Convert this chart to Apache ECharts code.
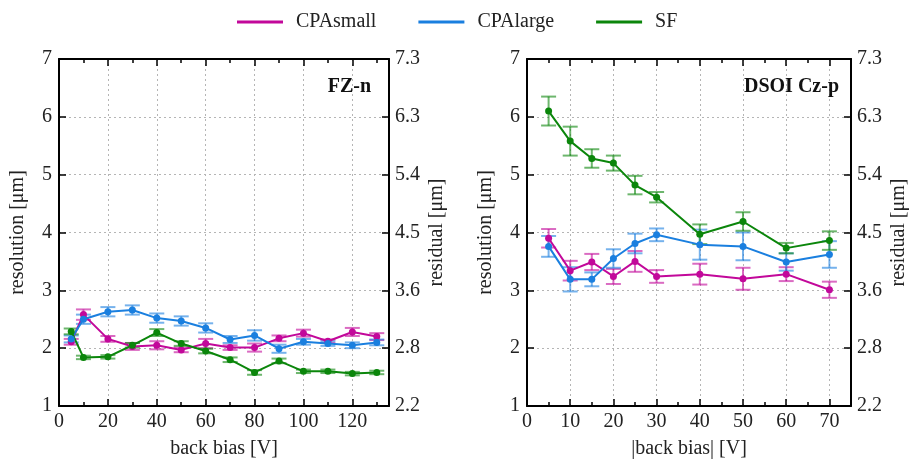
<!DOCTYPE html>
<html>
<head>
<meta charset="utf-8">
<script src="https://cdn.jsdelivr.net/npm/echarts@6/dist/echarts.min.js"></script>
<style>html,body{margin:0;padding:0;background:#fff;}#c{width:910px;height:464px;}</style>
</head>
<body>
<div id="c"></div>
<script>
// ---- data ----
const seriesNames = ['CPAsmall', 'CPAlarge', 'SF'];
const residualTicks = ['2.2', '2.8', '3.6', '4.5', '5.4', '6.3', '7.3']; // at resolution 1..7

// FZ-n panel
const fzX = [5, 10, 20, 30, 40, 50, 60, 70, 80, 90, 100, 110, 120, 130];
const fzSmall = [2.11, 2.58, 2.16, 2.03, 2.05, 1.97, 2.08, 2.01, 2.01, 2.17, 2.26, 2.12, 2.28, 2.20];
const fzSmallErr = [0.05, 0.09, 0.05, 0.06, 0.07, 0.04, 0.08, 0.04, 0.07, 0.05, 0.06, 0.03, 0.07, 0.06];
const fzLarge = [2.16, 2.50, 2.63, 2.66, 2.52, 2.47, 2.35, 2.15, 2.22, 1.99, 2.11, 2.08, 2.05, 2.10];
const fzLargeErr = [0.06, 0.08, 0.08, 0.08, 0.08, 0.08, 0.08, 0.06, 0.09, 0.07, 0.05, 0.04, 0.05, 0.05];
const fzSF = [2.29, 1.84, 1.85, 2.05, 2.27, 2.08, 1.95, 1.80, 1.58, 1.78, 1.60, 1.60, 1.56, 1.58];
const fzSFErr = [0.05, 0.03, 0.03, 0.04, 0.06, 0.04, 0.04, 0.04, 0.04, 0.04, 0.03, 0.03, 0.03, 0.03];

// DSOI Cz-p panel
const dsX = [5, 10, 15, 20, 25, 30, 40, 50, 60, 70];
const dsSmall = [3.90, 3.34, 3.49, 3.24, 3.50, 3.24, 3.28, 3.20, 3.28, 3.01];
const dsSmallErr = [0.16, 0.17, 0.14, 0.13, 0.18, 0.11, 0.18, 0.19, 0.12, 0.14];
const dsLarge = [3.76, 3.19, 3.19, 3.55, 3.81, 3.96, 3.79, 3.76, 3.49, 3.62];
const dsLargeErr = [0.18, 0.21, 0.12, 0.16, 0.17, 0.11, 0.26, 0.24, 0.15, 0.23];
const dsSF = [6.10, 5.58, 5.28, 5.20, 4.82, 4.61, 3.97, 4.19, 3.73, 3.86];
const dsSFErr = [0.25, 0.25, 0.16, 0.13, 0.16, 0.09, 0.17, 0.16, 0.09, 0.16];

// ---- style ----
const colors = ['#c2089a', '#1a7fdf', '#0b860b'];
const FONT = 'Liberation Serif';
const txt = { fontFamily: FONT, fontSize: 20, color: '#222' };

const chart = echarts.init(document.getElementById('c'), null, { renderer: 'canvas' });

function xPair(gi, max, interval, name) {
  const base = {
    gridIndex: gi, type: 'value', min: 0, max: max, interval: interval,
    axisLine: { show: true, onZero: false, lineStyle: { color: '#000', width: 2 } },
    axisTick: { show: true, inside: true, length: 7, lineStyle: { color: '#000', width: 1.5 } },
    minorTick: { show: true, splitNumber: 2, length: 4, lineStyle: { color: '#000', width: 1.5 } },
  };
  return [
    Object.assign({}, base, {
      position: 'bottom', name: name, nameLocation: 'middle', nameGap: 33,
      nameTextStyle: txt,
      axisLabel: Object.assign({ margin: 6, showMaxLabel: false }, txt),
      splitLine: { show: true, lineStyle: { color: '#b5b5b5', type: [2, 3], width: 1 } }
    }),
    Object.assign({}, base, {
      position: 'top', axisLabel: { show: false }, splitLine: { show: false }
    })
  ];
}
function yPair(gi) {
  const base = {
    gridIndex: gi, type: 'value', min: 1, max: 7, interval: 1,
    axisLine: { show: true, onZero: false, lineStyle: { color: '#000', width: 2 } },
    axisTick: { show: true, inside: true, length: 7, lineStyle: { color: '#000', width: 1.5 } },
  };
  return [
    Object.assign({}, base, {
      position: 'left', name: 'resolution [μm]', nameLocation: 'middle', nameGap: 31, nameRotate: 90,
      nameTextStyle: txt,
      axisLabel: Object.assign({ margin: 7 }, txt),
      splitLine: { show: true, lineStyle: { color: '#b5b5b5', type: [2, 3], width: 1 } }
    }),
    Object.assign({}, base, {
      position: 'right', name: 'residual [μm]', nameLocation: 'middle', nameGap: 38, nameRotate: 90,
      nameTextStyle: txt,
      axisLabel: Object.assign({ margin: 6, formatter: v => residualTicks[Math.round(v) - 1] }, txt),
      splitLine: { show: false }
    })
  ];
}

function errSeries(name, xs, ys, es, color, xi, yi) {
  return {
    name: name + ' err', type: 'custom', xAxisIndex: xi, yAxisIndex: yi, z: 2,
    encode: { x: 0, y: [1, 2] },
    data: xs.map((x, i) => [x, ys[i] - es[i], ys[i] + es[i]]),
    renderItem: function (params, api) {
      const x = api.value(0);
      const p1 = api.coord([x, api.value(1)]);
      const p2 = api.coord([x, api.value(2)]);
      const w = 7.5;
      const style = { stroke: color, lineWidth: 2, opacity: 0.6 };
      return {
        type: 'group', children: [
          { type: 'line', shape: { x1: p1[0], y1: p1[1], x2: p2[0], y2: p2[1] }, style: style },
          { type: 'line', shape: { x1: p1[0] - w, y1: p1[1], x2: p1[0] + w, y2: p1[1] }, style: style },
          { type: 'line', shape: { x1: p2[0] - w, y1: p2[1], x2: p2[0] + w, y2: p2[1] }, style: style }
        ]
      };
    }
  };
}
function lineSeries(name, xs, ys, color, xi, yi) {
  return {
    name: name, type: 'line', xAxisIndex: xi, yAxisIndex: yi, z: 3,
    data: xs.map((x, i) => [x, ys[i]]),
    symbol: 'circle', symbolSize: 7, showSymbol: true,
    lineStyle: { color: color, width: 2 }, itemStyle: { color: color },
    emphasis: { disabled: true }, animation: false
  };
}

const panels = [
  { x: fzX, ys: [fzSmall, fzLarge, fzSF], es: [fzSmallErr, fzLargeErr, fzSFErr], xi: 0, yi: 0 },
  { x: dsX, ys: [dsSmall, dsLarge, dsSF], es: [dsSmallErr, dsLargeErr, dsSFErr], xi: 2, yi: 2 }
];
const series = [];
panels.forEach(p => {
  seriesNames.forEach((n, k) => {
    series.push(errSeries(n, p.x, p.ys[k], p.es[k], colors[k], p.xi, p.yi));
  });
  seriesNames.forEach((n, k) => {
    series.push(lineSeries(n, p.x, p.ys[k], colors[k], p.xi, p.yi));
  });
});

const option = {
  backgroundColor: '#fff',
  animation: false,
  color: colors,
  title: [
    { text: 'FZ-n', right: 534, top: 72, textStyle: { fontFamily: FONT, fontSize: 20, fontWeight: 'bold', color: '#111' } },
    { text: 'DSOI Cz-p', right: 66, top: 72, textStyle: { fontFamily: FONT, fontSize: 20, fontWeight: 'bold', color: '#111' } }
  ],
  legend: {
    data: seriesNames, top: 7, left: 232, icon: 'rect',
    itemWidth: 46, itemHeight: 3, itemGap: 42,
    textStyle: Object.assign({ padding: [0, 0, 0, 8] }, txt)
  },
  grid: [
    { left: 59, top: 59, width: 330, height: 353 },
    { left: 527, top: 59, width: 330, height: 353 }
  ],
  xAxis: [].concat(xPair(0, 135, 20, 'back bias [V]'), xPair(1, 75, 10, '|back bias| [V]')),
  yAxis: [].concat(yPair(0), yPair(1)),
  series: series
};
chart.setOption(option);
</script>
</body>
</html>
